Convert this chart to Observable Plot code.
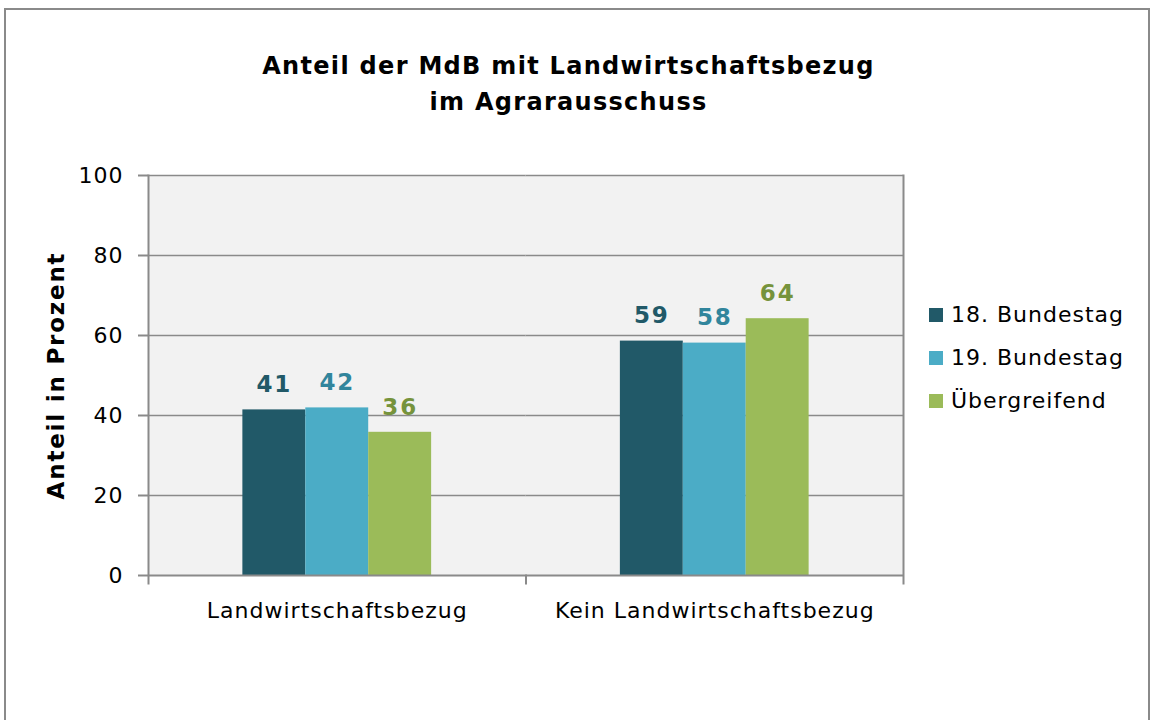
<!DOCTYPE html>
<html>
<head>
<meta charset="utf-8">
<script src="https://cdn.jsdelivr.net/npm/d3@7"></script>
<script src="https://cdn.jsdelivr.net/npm/@observablehq/plot@0.6"></script>
<style>
  html, body { margin: 0; padding: 0; background: #fff; }
  body { font-family: "DejaVu Sans", Verdana, sans-serif; }
  #wrap { position: relative; width: 1151px; height: 720px; overflow: hidden; background: #fff; }
  #box { position: absolute; left: 4px; top: 8px; width: 1142px; height: 800px; border: 2px solid #8a8a8a; }
  #title { position: absolute; left: 0; top: 48px; width: 1137px; text-align: center;
           font-weight: bold; font-size: 24px; line-height: 36px; letter-spacing: 1.3px; color: #000; }
  #chart { position: absolute; left: 0; top: 150px; }
  #chart svg g[font-weight="bold"] { letter-spacing: 1.8px; }
  #legend { position: absolute; left: 929px; top: 300px; }
  .item { position: absolute; left: 0; height: 30px; white-space: nowrap; font-size: 22px; letter-spacing: 1px; color: #000; }
  .sw { position: absolute; left: 0; width: 14px; height: 14px; }
  .lab { position: absolute; left: 22px; top: 0; line-height: 30px; }
</style>
</head>
<body>
<div id="wrap">
  <div id="box"></div>
  <div id="title">Anteil der MdB mit Landwirtschaftsbezug<br>im Agrarausschuss</div>
  <div id="chart"></div>
  <div id="legend"></div>
</div>
<script>
// ---- data ----
const categories = ["Landwirtschaftsbezug", "Kein Landwirtschaftsbezug"];
const series = ["18. Bundestag", "19. Bundestag", "Übergreifend"];
const bundestag18 = [41.4, 58.6];
const bundestag19 = [41.9, 58.1];
const uebergreifend = [35.8, 64.2];
const yTicks = [0, 20, 40, 60, 80, 100];
const yAxisTitle = "Anteil in Prozent";

// ---- styles ----
const barColors = ["#215968", "#4bacc6", "#9bbb59"];
const labelColors = ["#215968", "#31859c", "#76933c"];
const gray = "#8a8a8a";

const seriesValues = [bundestag18, bundestag19, uebergreifend];
const rows = [];
categories.forEach((c, ci) => {
  series.forEach((s, si) => {
    rows.push({category: c, series: s, value: seriesValues[si][ci]});
  });
});

const W = 1151, H = 480, mT = 25, mB = 55, mL = 148, mR = 248;
const innerH = H - mT - mB;

const marks = [
  Plot.frame({fill: "#f2f2f2", stroke: null}),
  Plot.gridY(yTicks.filter(t => t > 0), {stroke: gray, strokeOpacity: 1, strokeWidth: 1.5}),
  Plot.barY(rows, {fx: "category", x: "series", y: "value", fill: "series"}),
  ...series.map((s, si) => Plot.text(rows.filter(r => r.series === s), {
    fx: "category", x: "series", y: "value",
    text: d => String(Math.round(d.value)),
    fill: labelColors[si], fontWeight: "bold", fontSize: 23, dy: -25
  })),
  Plot.ruleY([0], {stroke: gray, strokeWidth: 2}),
  Plot.frame({anchor: "left", facetAnchor: "left", stroke: gray, strokeWidth: 2, insetBottom: -8}),
  Plot.frame({anchor: "right", facetAnchor: "right", stroke: gray, strokeWidth: 2, insetBottom: -8}),
  Plot.frame({anchor: "left", facetAnchor: "right", stroke: gray, strokeWidth: 2, insetTop: innerH, insetBottom: -8}),
  Plot.axisY(yTicks, {anchor: "left", tickSize: 10, tickPadding: 15, stroke: gray, strokeWidth: 2, color: "#000", fontSize: 22, label: null, tickFormat: d => String(d)}),
  Plot.axisFx({anchor: "bottom", tickSize: 0, tickPadding: 27, fontSize: 22, label: null, color: "#000"}),
  Plot.text([yAxisTitle], {frameAnchor: "left", facetAnchor: "left", textAnchor: "middle", rotate: -90, dx: -92, fontWeight: "bold", fontSize: 23, fill: "#000"})
];

const chart = Plot.plot({
  width: W, height: H,
  marginTop: mT, marginBottom: mB, marginLeft: mL, marginRight: mR,
  style: {fontFamily: "DejaVu Sans", fontSize: "22px", color: "#000", background: "transparent", overflow: "visible", letterSpacing: "1px"},
  fx: {domain: categories, padding: 0, round: false, label: null},
  x: {domain: series, paddingInner: 0, paddingOuter: 1.5, round: false, axis: null},
  y: {domain: [0, 100], axis: null},
  color: {domain: series, range: barColors},
  marks
});
document.getElementById("chart").appendChild(chart);

// legend
const legend = document.getElementById("legend");
series.forEach((s, i) => {
  const item = document.createElement("div");
  item.className = "item";
  item.style.top = (i * 43) + "px";
  const sw = document.createElement("div");
  sw.className = "sw";
  sw.style.background = barColors[i];
  sw.style.top = "8px";
  const lab = document.createElement("div");
  lab.className = "lab";
  lab.textContent = s;
  item.appendChild(sw);
  item.appendChild(lab);
  legend.appendChild(item);
});
</script>
</body>
</html>
